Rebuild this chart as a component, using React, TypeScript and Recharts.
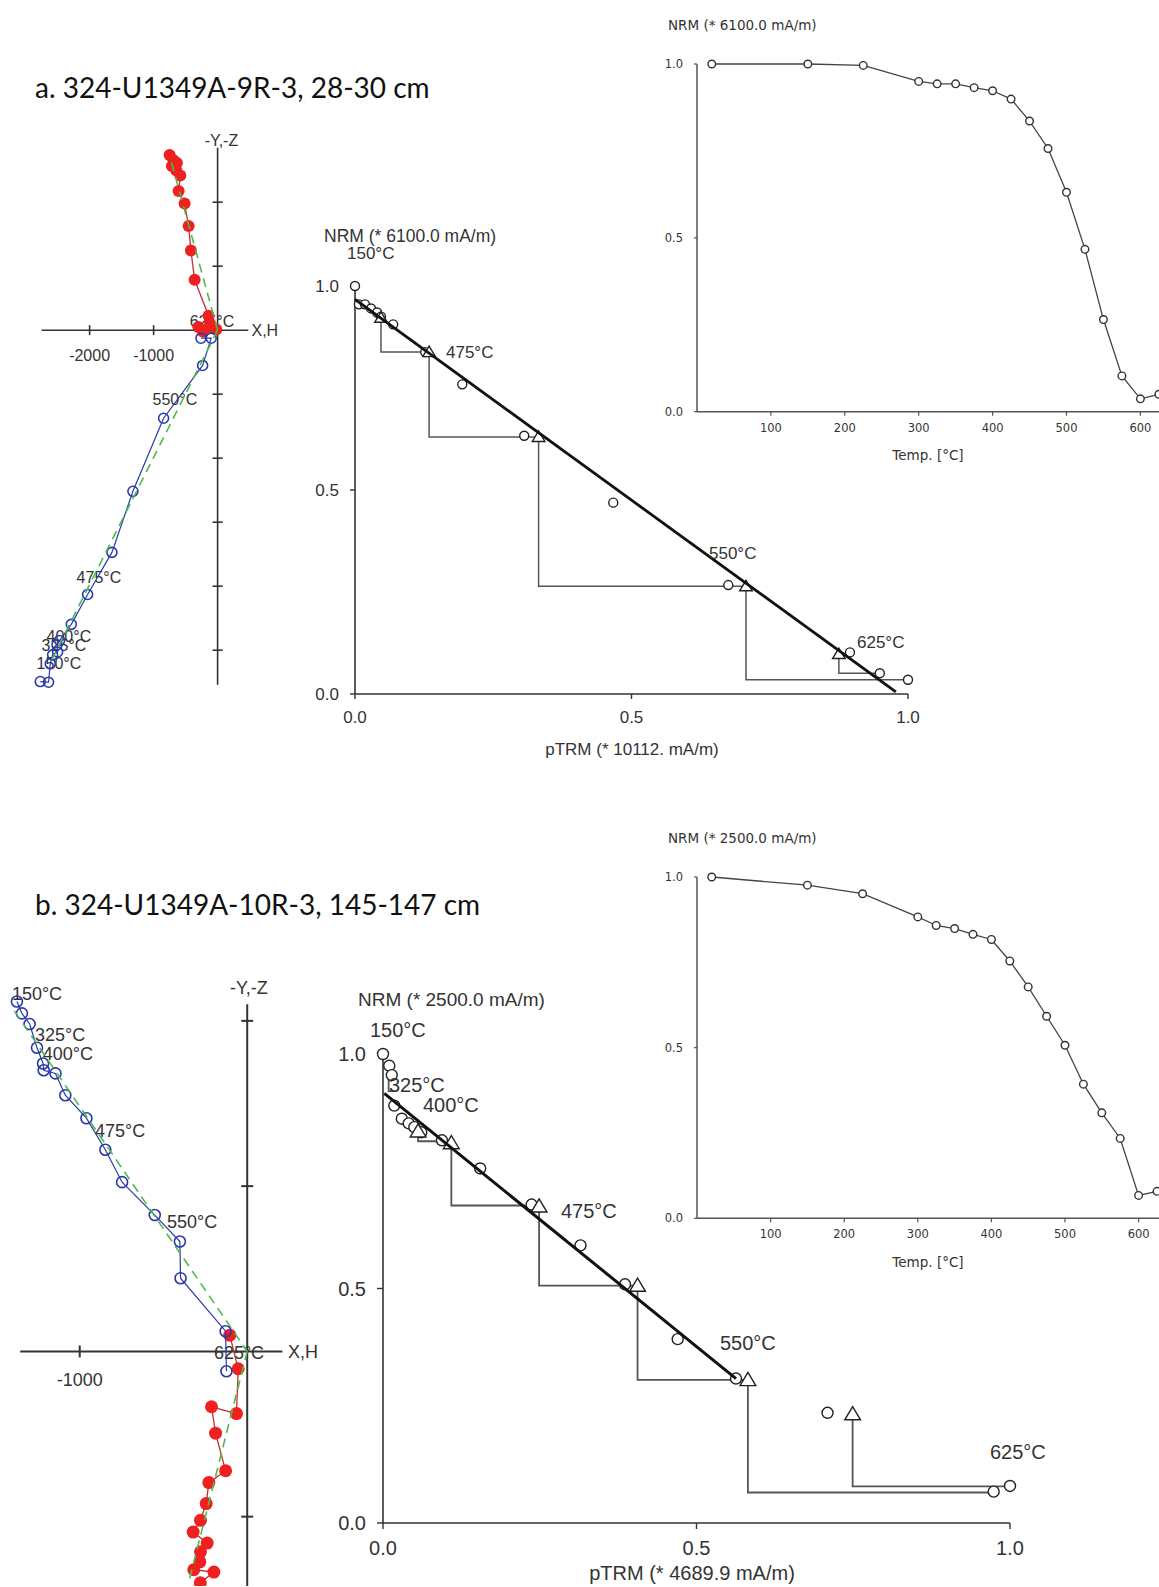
import React from 'react';
import { ScatterChart, Scatter, XAxis, YAxis } from 'recharts';

const ARIAL = 'Liberation Sans, Arial, Helvetica, sans-serif';
const DEJAVU = 'DejaVu Sans, Verdana, sans-serif';
const LATO = 'Lato, Carlito, Calibri, sans-serif';

// ================= DATA =================
// Thermal demagnetisation (normalised NRM vs temperature)
const TEMPS = [20, 150, 225, 300, 325, 350, 375, 400, 425, 450, 475, 500, 525, 550, 575, 600, 625];
const NRM_A = [1.0, 1.0, 0.996, 0.95, 0.943, 0.943, 0.932, 0.923, 0.899, 0.836, 0.757, 0.631, 0.467, 0.265, 0.103, 0.037, 0.05];
const NRM_B = [1.0, 0.976, 0.951, 0.883, 0.858, 0.849, 0.832, 0.817, 0.754, 0.678, 0.592, 0.507, 0.393, 0.309, 0.234, 0.067, 0.079];
const DEMAG_X_TICKS = [100, 200, 300, 400, 500, 600];
const UNIT_TICKS = [0, 0.5, 1];

// Arai plot a
const ARAI_A_PTRM = [0, 0.007, 0.018, 0.029, 0.04, 0.047, 0.069, 0.127, 0.194, 0.306, 0.467, 0.675, 0.895, 0.949, 1.0];
const ARAI_A_NRM = [1.0, 0.955, 0.955, 0.945, 0.935, 0.925, 0.906, 0.838, 0.759, 0.633, 0.469, 0.267, 0.102, 0.051, 0.035];
const ARAI_A_CHECK_PTRM = [0.047, 0.134, 0.332, 0.707, 0.875];
const ARAI_A_CHECK_NRM = [0.922, 0.838, 0.63, 0.264, 0.098];
const ARAI_A_STEPS = [
  [[0.047, 0.922], [0.047, 0.838], [0.134, 0.838]],
  [[0.134, 0.838], [0.134, 0.63], [0.332, 0.63]],
  [[0.332, 0.63], [0.332, 0.264], [0.707, 0.264]],
  [[0.707, 0.264], [0.707, 0.035], [1.0, 0.035]],
  [[0.875, 0.098], [0.875, 0.051], [0.949, 0.051]],
];
const ARAI_A_FIT = [[0, 0.967], [0.978, 0.005]];

// Arai plot b
const ARAI_B_PTRM = [0, 0.01, 0.014, 0.018, 0.03, 0.041, 0.05, 0.061, 0.094, 0.155, 0.237, 0.315, 0.386, 0.47, 0.563, 0.709, 0.974, 1.0];
const ARAI_B_NRM = [1.0, 0.975, 0.955, 0.89, 0.862, 0.852, 0.844, 0.833, 0.816, 0.756, 0.679, 0.592, 0.509, 0.392, 0.308, 0.235, 0.067, 0.079];
const ARAI_B_CHECK_PTRM = [0.056, 0.109, 0.249, 0.406, 0.582, 0.749];
const ARAI_B_CHECK_NRM = [0.835, 0.81, 0.675, 0.506, 0.305, 0.232];
const ARAI_B_STEPS = [
  [[0.009, 0.954], [0.009, 0.921], [0.018, 0.921]],
  [[0.056, 0.841], [0.056, 0.814], [0.109, 0.814]],
  [[0.109, 0.81], [0.109, 0.677], [0.249, 0.677]],
  [[0.249, 0.675], [0.249, 0.506], [0.406, 0.506]],
  [[0.406, 0.506], [0.406, 0.305], [0.582, 0.305]],
  [[0.582, 0.305], [0.582, 0.065], [0.974, 0.065]],
  [[0.749, 0.232], [0.749, 0.078], [1.0, 0.078]],
];
const ARAI_B_FIT = [[0.002, 0.916], [0.563, 0.308]];

// Zijderveld a (mA/m)
const ZIJ_A_RED_X = [-750, -688, -635, -714, -646, -583, -609, -516, -453, -417, -359, -141, -120, -300, -230, -80, -20];
const ZIJ_A_RED_Y = [2736, 2657, 2612, 2567, 2500, 2416, 2174, 1978, 1629, 1247, 787, 225, 110, 50, -20, 30, 10];
const ZIJ_A_BLUE_X = [-2771, -2641, -2615, -2578, -2500, -2510, -2469, -2286, -2031, -1651, -1323, -844, -234, -100, -260];
const ZIJ_A_BLUE_Y = [-5490, -5500, -5213, -5073, -5028, -4916, -4848, -4596, -4129, -3472, -2517, -1376, -551, -125, -125];
const ZIJ_A_FIT_RED = [[-720, 2620], [0, 0]];
const ZIJ_A_FIT_BLUE = [[0, 0], [-2615, -5197]];
const ZIJ_A_H_TICKS = [-2000, -1000];
const ZIJ_A_V_TICKS = [2000, 1000, -1000, -2000, -3000, -4000, -5000];
const ZIJ_A_H_AXIS = [[-2750, 0], [480, 0]];
const ZIJ_A_V_AXIS = [[0, 2850], [0, -5540]];
const ZIJ_A_LABELS = [
  { t: '625°C', x: -437, y: 133 },
  { t: '550°C', x: -1016, y: -1086 },
  { t: '475°C', x: -2203, y: -3870 },
  { t: '400°C', x: -2672, y: -4780 },
  { t: '325°C', x: -2750, y: -4920 },
  { t: '150°C', x: -2828, y: -5200 },
];

// Zijderveld b (mA/m)
const ZIJ_B_BLUE_X = [-1375, -1345, -1299, -1255, -1219, -1215, -1145, -1086, -960, -847, -747, -552, -402, -398, -129, -124];
const ZIJ_B_BLUE_Y = [2117, 2045, 1981, 1837, 1742, 1701, 1682, 1550, 1411, 1220, 1024, 825, 665, 443, 122, -120];
const ZIJ_B_RED_X = [-280, -199, -319, -283, -279, -239, -323, -279, -245, -229, -129, -189, -213, -64, -54, -104];
const ZIJ_B_RED_Y = [-1400, -1335, -1321, -1273, -1213, -1160, -1093, -1022, -921, -794, -722, -495, -335, -376, -105, 98];
const ZIJ_B_FIT_BLUE = [[-1390, 2060], [0, 0]];
const ZIJ_B_FIT_RED = [[0, 0], [-350, -1400]];
const ZIJ_B_H_TICKS = [-1000];
const ZIJ_B_V_TICKS = [2000, 1000, -1000];
const ZIJ_B_H_AXIS = [[-1355, 0], [210, 0]];
const ZIJ_B_V_AXIS = [[0, 2100], [0, -1420]];
const ZIJ_B_LABELS = [
  { t: '150°C', x: -1405, y: 2167 },
  { t: '325°C', x: -1267, y: 1916 },
  { t: '400°C', x: -1220, y: 1803 },
  { t: '475°C', x: -909, y: 1337 },
  { t: '550°C', x: -479, y: 782 },
  { t: '625°C', x: -199, y: -6 },
];

// ================= helpers =================
const zip = (xs: number[], ys: number[]) => xs.map((x, i) => ({ x, y: ys[i] }));
const pts = (arr: number[][]) => arr.map(([x, y]) => ({ x, y }));

const none = () => <g />;
const openCircle = (r: number, stroke: string, sw: number, fill = '#fff') => (p: any) =>
  p.cx == null ? <g /> : <circle cx={p.cx} cy={p.cy} r={r} fill={fill} stroke={stroke} strokeWidth={sw} />;
const filledDot = (r: number, fill: string) => (p: any) =>
  p.cx == null ? <g /> : <circle cx={p.cx} cy={p.cy} r={r} fill={fill} />;
const triangle = (s: number, stroke: string, sw: number) => (p: any) =>
  p.cx == null ? (
    <g />
  ) : (
    <path
      d={`M${p.cx} ${p.cy - s}L${p.cx + s * 1.05} ${p.cy + s * 0.75}L${p.cx - s * 1.05} ${p.cy + s * 0.75}Z`}
      fill="#fff"
      stroke={stroke}
      strokeWidth={sw}
    />
  );
const vTick = (h: number, stroke: string, sw: number) => (p: any) =>
  <line x1={p.cx} x2={p.cx} y1={p.cy - h} y2={p.cy + h} stroke={stroke} strokeWidth={sw} />;
const hTick = (h: number, stroke: string, sw: number) => (p: any) =>
  <line x1={p.cx - h} x2={p.cx + h} y1={p.cy} y2={p.cy} stroke={stroke} strokeWidth={sw} />;
const textShape = (size: number, family: string, anchor: string, dy: number, fill = '#333') => (p: any) => (
  <text x={p.cx} y={p.cy + dy} dy="0.35em" textAnchor={anchor} fontSize={size} fontFamily={family} fill={fill}>
    {p.payload.t}
  </text>
);

// ================= Zijderveld =================
type ZijCfg = {
  ox: number; oy: number; s: number;
  xDomain: [number, number]; yDomain: [number, number];
  redX: number[]; redY: number[]; blueX: number[]; blueY: number[];
  fitRed: number[][]; fitBlue: number[][];
  hAxis: number[][]; vAxis: number[][];
  hTicks: number[]; vTicks: number[];
  labels: { t: string; x: number; y: number }[];
  font: number; tickLen: number; axisW: number;
  redR: number; blueR: number; tickLabelDy: number;
  yzX: number; yzY: number; xhX: number;
};

function Zij(c: ZijCfg) {
  const left = c.ox + c.xDomain[0] * c.s;
  const top = c.oy - c.yDomain[1] * c.s;
  const W = (c.xDomain[1] - c.xDomain[0]) * c.s;
  const H = (c.yDomain[1] - c.yDomain[0]) * c.s;
  const AX = '#333';
  const tickLabelData = c.hTicks.map((v) => ({ x: v, y: 0, t: String(v) }));
  return (
    <div style={{ position: 'absolute', left, top, width: W, height: H }}>
      <ScatterChart width={W} height={H} margin={{ top: 0, right: 0, bottom: 0, left: 0 }} style={{ overflow: 'visible' }}>
        <XAxis type="number" dataKey="x" domain={c.xDomain} hide />
        <YAxis type="number" dataKey="y" domain={c.yDomain} hide />
        <Scatter data={pts(c.hAxis)} line={{ stroke: AX, strokeWidth: c.axisW }} shape={none} isAnimationActive={false} />
        <Scatter data={pts(c.vAxis)} line={{ stroke: AX, strokeWidth: c.axisW }} shape={none} isAnimationActive={false} />
        <Scatter data={c.hTicks.map((v) => ({ x: v, y: 0 }))} shape={vTick(c.tickLen, AX, c.axisW)} isAnimationActive={false} />
        <Scatter data={c.vTicks.map((v) => ({ x: 0, y: v }))} shape={hTick(c.tickLen, AX, c.axisW)} isAnimationActive={false} />
        <Scatter data={tickLabelData} shape={textShape(c.font, ARIAL, 'middle', c.tickLabelDy)} isAnimationActive={false} />
        <Scatter data={[{ x: c.yzX, y: c.yzY, t: '-Y,-Z' }]} shape={textShape(c.font, ARIAL, 'middle', 0)} isAnimationActive={false} />
        <Scatter data={[{ x: c.xhX, y: 0, t: 'X,H' }]} shape={textShape(c.font, ARIAL, 'start', 0)} isAnimationActive={false} />
        <Scatter data={c.labels} shape={textShape(c.font, ARIAL, 'start', 0)} isAnimationActive={false} />
        <Scatter
          data={zip(c.redX, c.redY)}
          line={{ stroke: '#c03030', strokeWidth: 1.3 }}
          shape={filledDot(c.redR, '#ee2020')}
          isAnimationActive={false}
        />
        <Scatter
          data={zip(c.blueX, c.blueY)}
          line={{ stroke: '#2c3aa8', strokeWidth: 1.2 }}
          shape={openCircle(c.blueR, '#2c3aa8', 1.6, 'none')}
          isAnimationActive={false}
        />
        <Scatter data={pts(c.fitRed)} line={{ stroke: '#4dbb4d', strokeWidth: 1.6, strokeDasharray: '9 6' }} shape={none} isAnimationActive={false} />
        <Scatter data={pts(c.fitBlue)} line={{ stroke: '#4dbb4d', strokeWidth: 1.6, strokeDasharray: '9 6' }} shape={none} isAnimationActive={false} />
      </ScatterChart>
    </div>
  );
}

// ================= Arai =================
type AraiCfg = {
  x0: number; x1: number; y0: number; y1: number;
  ptrm: number[]; nrm: number[]; chkX: number[]; chkY: number[];
  steps: number[][][]; fit: number[][];
  font: number; r: number; triS: number; fitW: number; stepW: number;
  tickSize: number; tmX: number; tmY: number;
};

function Arai(c: AraiCfg) {
  const yw = 70, xh = 50, mt = 10, mr = 20;
  const W = c.x1 - c.x0 + yw + mr;
  const H = c.y1 - c.y0 + mt + xh;
  const AX = '#333';
  const tick = { fontSize: c.font, fontFamily: ARIAL, fill: '#333' };
  return (
    <div style={{ position: 'absolute', left: c.x0 - yw, top: c.y0 - mt, width: W, height: H }}>
      <ScatterChart width={W} height={H} margin={{ top: mt, right: mr, bottom: 0, left: 0 }} style={{ overflow: 'visible' }}>
        <XAxis
          type="number" dataKey="x" domain={[0, 1]} ticks={UNIT_TICKS} interval={0} height={xh}
          tickFormatter={(v: number) => v.toFixed(1)} tick={tick} tickSize={c.tickSize} tickMargin={c.tmX}
          axisLine={{ stroke: AX, strokeWidth: 1.6 }} tickLine={{ stroke: AX, strokeWidth: 1.4 }}
        />
        <YAxis
          type="number" dataKey="y" domain={[0, 1]} ticks={UNIT_TICKS} interval={0} width={yw}
          tickFormatter={(v: number) => v.toFixed(1)} tick={tick} tickSize={c.tickSize} tickMargin={c.tmY}
          axisLine={{ stroke: AX, strokeWidth: 1.6 }} tickLine={{ stroke: AX, strokeWidth: 1.4 }}
        />
        {c.steps.map((s, i) => (
          <Scatter key={'s' + i} data={pts(s)} line={{ stroke: '#555', strokeWidth: c.stepW }} shape={none} isAnimationActive={false} />
        ))}
        <Scatter data={zip(c.ptrm, c.nrm)} shape={openCircle(c.r, '#222', 1.4)} isAnimationActive={false} />
        <Scatter data={zip(c.chkX, c.chkY)} shape={triangle(c.triS, '#222', 1.4)} isAnimationActive={false} />
        <Scatter data={pts(c.fit)} line={{ stroke: '#111', strokeWidth: c.fitW }} shape={none} isAnimationActive={false} />
      </ScatterChart>
    </div>
  );
}

// ================= Demag =================
type DemagCfg = { x0: number; x1: number; y0: number; y1: number; nrm: number[] };

function Demag(c: DemagCfg) {
  const yw = 60, xh = 40, mt = 8, mr = 0;
  const W = c.x1 - c.x0 + yw + mr;
  const H = c.y1 - c.y0 + mt + xh;
  const AX = '#555';
  const tick = { fontSize: 11.5, fontFamily: DEJAVU, fill: '#333' };
  return (
    <div style={{ position: 'absolute', left: c.x0 - yw, top: c.y0 - mt, width: W, height: H }}>
      <ScatterChart width={W} height={H} margin={{ top: mt, right: mr, bottom: 0, left: 0 }} style={{ overflow: 'visible' }}>
        <XAxis
          type="number" dataKey="x" domain={[0, 650]} ticks={DEMAG_X_TICKS} interval={0} height={xh}
          tick={tick} tickSize={4} tickMargin={8}
          axisLine={{ stroke: AX, strokeWidth: 1.5 }} tickLine={{ stroke: AX, strokeWidth: 1.2 }}
        />
        <YAxis
          type="number" dataKey="y" domain={[0, 1]} ticks={UNIT_TICKS} interval={0} width={yw}
          tickFormatter={(v: number) => v.toFixed(1)} tick={tick} tickSize={3} tickMargin={11}
          axisLine={{ stroke: AX, strokeWidth: 1.5 }} tickLine={{ stroke: AX, strokeWidth: 1.2 }}
        />
        <Scatter
          data={zip(TEMPS, c.nrm)}
          line={{ stroke: '#444', strokeWidth: 1.3 }}
          shape={openCircle(3.8, '#333', 1.4)}
          isAnimationActive={false}
        />
      </ScatterChart>
    </div>
  );
}

// ================= overlay text =================
const TEXTS = [
  { t: 'a. 324-U1349A-9R-3, 28-30 cm', x: 35, y: 88, size: 28, fam: LATO, anchor: 'start', fill: '#111' },
  { t: 'b. 324-U1349A-10R-3, 145-147 cm', x: 35, y: 905, size: 28, fam: LATO, anchor: 'start', fill: '#111' },
  { t: 'NRM (* 6100.0 mA/m)', x: 324, y: 236, size: 17.5, fam: ARIAL, anchor: 'start', fill: '#333' },
  { t: '150°C', x: 347, y: 253, size: 17, fam: ARIAL, anchor: 'start', fill: '#333' },
  { t: '475°C', x: 446, y: 352, size: 17, fam: ARIAL, anchor: 'start', fill: '#333' },
  { t: '550°C', x: 709, y: 553, size: 17, fam: ARIAL, anchor: 'start', fill: '#333' },
  { t: '625°C', x: 857, y: 642, size: 17, fam: ARIAL, anchor: 'start', fill: '#333' },
  { t: 'pTRM (* 10112. mA/m)', x: 632, y: 749, size: 17, fam: ARIAL, anchor: 'middle', fill: '#333' },
  { t: 'NRM (* 6100.0 mA/m)', x: 668, y: 25, size: 13.5, fam: DEJAVU, anchor: 'start', fill: '#333' },
  { t: 'Temp. [°C]', x: 928, y: 455, size: 13.5, fam: DEJAVU, anchor: 'middle', fill: '#333' },
  { t: 'NRM (* 2500.0 mA/m)', x: 668, y: 838, size: 13.5, fam: DEJAVU, anchor: 'start', fill: '#333' },
  { t: 'Temp. [°C]', x: 928, y: 1262, size: 13.5, fam: DEJAVU, anchor: 'middle', fill: '#333' },
  { t: 'NRM (* 2500.0 mA/m)', x: 358, y: 999, size: 19, fam: ARIAL, anchor: 'start', fill: '#333' },
  { t: '150°C', x: 370, y: 1030, size: 20, fam: ARIAL, anchor: 'start', fill: '#333' },
  { t: '325°C', x: 389, y: 1085, size: 20, fam: ARIAL, anchor: 'start', fill: '#333' },
  { t: '400°C', x: 423, y: 1105, size: 20, fam: ARIAL, anchor: 'start', fill: '#333' },
  { t: '475°C', x: 561, y: 1211, size: 20, fam: ARIAL, anchor: 'start', fill: '#333' },
  { t: '550°C', x: 720, y: 1343, size: 20, fam: ARIAL, anchor: 'start', fill: '#333' },
  { t: '625°C', x: 990, y: 1452, size: 20, fam: ARIAL, anchor: 'start', fill: '#333' },
  { t: 'pTRM (* 4689.9 mA/m)', x: 692, y: 1573, size: 20, fam: ARIAL, anchor: 'middle', fill: '#333' },
];

export default function App() {
  return (
    <div style={{ position: 'absolute', left: 0, top: 0, width: 1159, height: 1587, overflow: 'hidden', background: '#fff' }}>
      <Zij
        ox={218} oy={330} s={0.064}
        xDomain={[-2900, 1100]} yDomain={[-5800, 3300]}
        redX={ZIJ_A_RED_X} redY={ZIJ_A_RED_Y} blueX={ZIJ_A_BLUE_X} blueY={ZIJ_A_BLUE_Y}
        fitRed={ZIJ_A_FIT_RED} fitBlue={ZIJ_A_FIT_BLUE}
        hAxis={ZIJ_A_H_AXIS} vAxis={ZIJ_A_V_AXIS}
        hTicks={ZIJ_A_H_TICKS} vTicks={ZIJ_A_V_TICKS}
        labels={ZIJ_A_LABELS}
        font={16} tickLen={5} axisW={1.6} redR={6} blueR={5} tickLabelDy={25}
        yzX={60} yzY={2960} xhX={530}
      />
      <Zij
        ox={247.3} oy={1357} s={0.1675}
        xDomain={[-1470, 520]} yDomain={[-1370, 2350]}
        redX={ZIJ_B_RED_X} redY={ZIJ_B_RED_Y} blueX={ZIJ_B_BLUE_X} blueY={ZIJ_B_BLUE_Y}
        fitRed={ZIJ_B_FIT_RED} fitBlue={ZIJ_B_FIT_BLUE}
        hAxis={ZIJ_B_H_AXIS} vAxis={ZIJ_B_V_AXIS}
        hTicks={ZIJ_B_H_TICKS} vTicks={ZIJ_B_V_TICKS}
        labels={ZIJ_B_LABELS}
        font={18} tickLen={6} axisW={2} redR={6.5} blueR={5.5} tickLabelDy={28}
        yzX={10} yzY={2200} xhX={243}
      />
      <Arai
        x0={355} x1={908} y0={286} y1={694}
        ptrm={ARAI_A_PTRM} nrm={ARAI_A_NRM} chkX={ARAI_A_CHECK_PTRM} chkY={ARAI_A_CHECK_NRM}
        steps={ARAI_A_STEPS} fit={ARAI_A_FIT}
        font={17} r={4.5} triS={6} fitW={2.8} stepW={1.5} tickSize={5} tmX={12} tmY={11}
      />
      <Arai
        x0={383} x1={1010} y0={1054} y1={1523}
        ptrm={ARAI_B_PTRM} nrm={ARAI_B_NRM} chkX={ARAI_B_CHECK_PTRM} chkY={ARAI_B_CHECK_NRM}
        steps={ARAI_B_STEPS} fit={ARAI_B_FIT}
        font={20} r={5.5} triS={7.5} fitW={3} stepW={1.8} tickSize={6} tmX={12} tmY={11}
      />
      <Demag x0={696.7} x1={696.7 + 650 * 0.739} y0={64} y1={411.7} nrm={NRM_A} />
      <Demag x0={696.7} x1={696.7 + 650 * 0.736} y0={876.7} y1={1218} nrm={NRM_B} />
      <svg width={1159} height={1587} style={{ position: 'absolute', left: 0, top: 0, pointerEvents: 'none' }}>
        {TEXTS.map((d, i) => (
          <text key={i} x={d.x} y={d.y} dy="0.35em" textAnchor={d.anchor as any} fontSize={d.size} fontFamily={d.fam} fill={d.fill}>
            {d.t}
          </text>
        ))}
      </svg>
    </div>
  );
}
